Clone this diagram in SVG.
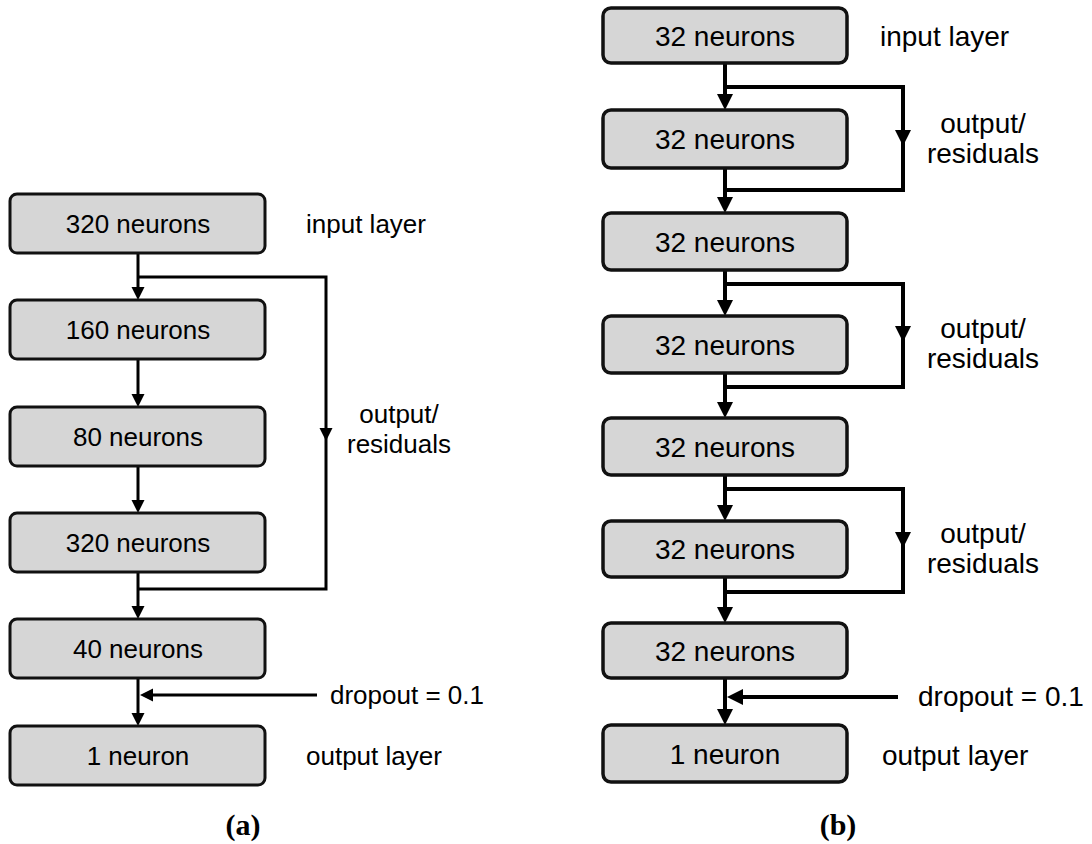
<svg xmlns="http://www.w3.org/2000/svg" xmlns:xlink="http://www.w3.org/1999/xlink" width="1092" height="844" viewBox="0 0 1092 844">
<style>
.bx{fill:#d6d6d6;stroke:#111;stroke-width:3}
.bxb{fill:#d6d6d6;stroke:#111;stroke-width:3.5}
.t{font-family:"Liberation Sans",Arial,Helvetica,sans-serif;font-size:26px;fill:#000}
.tb{font-family:"Liberation Sans",Arial,Helvetica,sans-serif;font-size:28px;fill:#000}
.c{text-anchor:middle}
.ln{fill:none;stroke:#000;stroke-width:3}
.lnb{fill:none;stroke:#000;stroke-width:4}
.cap{font-family:"Liberation Serif","Times New Roman",serif;font-weight:bold;font-size:30px;fill:#000;text-anchor:middle}
</style>
<defs>
<path id="hA" d="M0 0 L-6.5 -13 L6.5 -13 Z" fill="#000"/>
<path id="hB" d="M0 0 L-8 -16 L8 -16 Z" fill="#000"/>
</defs>
<rect width="1092" height="844" fill="#fff"/>

<g id="connectors">
<!-- panel a -->
<path class="ln" d="M138 253 V288"/><use href="#hA" x="138" y="300"/>
<path class="ln" d="M138 277 H326 V589 H138"/><use href="#hA" x="326" y="441"/>
<path class="ln" d="M138 359 V395"/><use href="#hA" x="138" y="407"/>
<path class="ln" d="M138 466 V501"/><use href="#hA" x="138" y="513"/>
<path class="ln" d="M138 572 V607"/><use href="#hA" x="138" y="619"/>
<path class="ln" d="M138 678 V714"/><use href="#hA" x="138" y="726"/>
<path class="ln" d="M317 695 H150"/><use href="#hA" transform="translate(140 695) rotate(90)"/>
<!-- panel b -->
<path class="lnb" d="M725 63 V95"/><use href="#hB" x="725" y="110"/>
<path class="lnb" d="M725 87 H903 V190 H725"/><use href="#hB" x="903" y="146"/>
<path class="lnb" d="M725 168 V198"/><use href="#hB" x="725" y="213"/>
<path class="lnb" d="M725 270 V301"/><use href="#hB" x="725" y="316"/>
<path class="lnb" d="M725 284 H903 V387 H725"/><use href="#hB" x="903" y="342"/>
<path class="lnb" d="M725 373 V403"/><use href="#hB" x="725" y="418"/>
<path class="lnb" d="M725 475 V506"/><use href="#hB" x="725" y="521"/>
<path class="lnb" d="M725 489 H903 V592 H725"/><use href="#hB" x="903" y="548"/>
<path class="lnb" d="M725 577 V608"/><use href="#hB" x="725" y="623"/>
<path class="lnb" d="M725 678 V710"/><use href="#hB" x="725" y="725"/>
<path class="lnb" d="M898 697 H738"/><use href="#hB" transform="translate(727 697) rotate(90)"/>
</g>

<g id="a1"><rect class="bx" x="10" y="194" width="255" height="59" rx="7"/><text class="t c" x="138" y="232.5">320 neurons</text></g>
<g id="a2"><rect class="bx" x="10" y="300" width="255" height="59" rx="7"/><text class="t c" x="138" y="338.5">160 neurons</text></g>
<g id="a3"><rect class="bx" x="10" y="407" width="255" height="59" rx="7"/><text class="t c" x="138" y="445.5">80 neurons</text></g>
<g id="a4"><rect class="bx" x="10" y="513" width="255" height="59" rx="7"/><text class="t c" x="138" y="551.5">320 neurons</text></g>
<g id="a5"><rect class="bx" x="10" y="619" width="255" height="59" rx="7"/><text class="t c" x="138" y="657.5">40 neurons</text></g>
<g id="a6"><rect class="bx" x="10" y="726" width="255" height="59" rx="7"/><text class="t c" x="138" y="764.5">1 neuron</text></g>

<g id="a-labels">
<text class="t" x="306" y="233">input layer</text>
<text class="t c" x="399" y="423">output/</text>
<text class="t c" x="399" y="453">residuals</text>
<text class="t" x="330" y="704">dropout = 0.1</text>
<text class="t" x="306" y="765">output layer</text>
<text class="cap" x="243" y="835">(a)</text>
</g>

<g id="b1"><rect class="bxb" x="603" y="8" width="244" height="55" rx="8"/><text class="tb c" x="725" y="45.5">32 neurons</text></g>
<g id="b2"><rect class="bxb" x="603" y="110" width="244" height="58" rx="8"/><text class="tb c" x="725" y="149">32 neurons</text></g>
<g id="b3"><rect class="bxb" x="603" y="213" width="244" height="57" rx="8"/><text class="tb c" x="725" y="251.5">32 neurons</text></g>
<g id="b4"><rect class="bxb" x="603" y="316" width="244" height="57" rx="8"/><text class="tb c" x="725" y="354.5">32 neurons</text></g>
<g id="b5"><rect class="bxb" x="603" y="418" width="244" height="57" rx="8"/><text class="tb c" x="725" y="456.5">32 neurons</text></g>
<g id="b6"><rect class="bxb" x="603" y="521" width="244" height="56" rx="8"/><text class="tb c" x="725" y="559">32 neurons</text></g>
<g id="b7"><rect class="bxb" x="603" y="623" width="244" height="55" rx="8"/><text class="tb c" x="725" y="660.5">32 neurons</text></g>
<g id="b8"><rect class="bxb" x="603" y="725" width="244" height="57" rx="8"/><text class="tb c" x="725" y="763.5">1 neuron</text></g>

<g id="b-labels">
<text class="tb" x="880" y="46">input layer</text>
<text class="tb c" x="983" y="133">output/</text>
<text class="tb c" x="983" y="163">residuals</text>
<text class="tb c" x="983" y="338">output/</text>
<text class="tb c" x="983" y="368">residuals</text>
<text class="tb c" x="983" y="543">output/</text>
<text class="tb c" x="983" y="573">residuals</text>
<text class="tb" x="918" y="706">dropout = 0.1</text>
<text class="tb" x="882" y="765">output layer</text>
<text class="cap" x="838" y="835">(b)</text>
</g>
</svg>
